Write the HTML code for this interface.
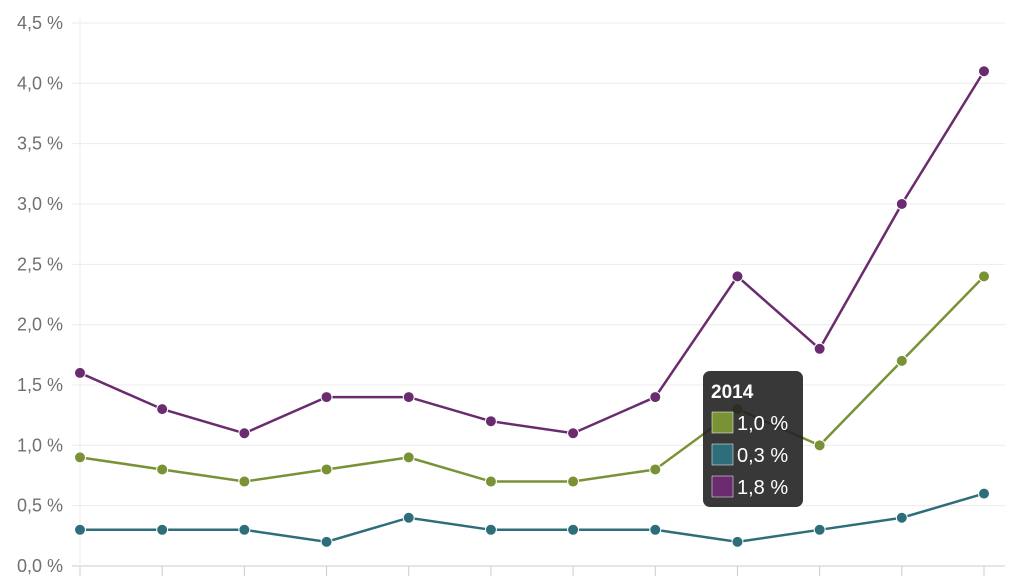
<!DOCTYPE html>
<html><head><meta charset="utf-8"><style>
body{margin:0;background:#fff;}
svg{display:block;font-family:"Liberation Sans",sans-serif;}
</style></head><body>
<svg id="c" width="1024" height="576"></svg>
<script>
const categories=["2005","2006","2007","2008","2009","2010","2011","2012","2013","2014","2015","2016"];
const seriesGreen=[0.9,0.8,0.7,0.8,0.9,0.7,0.7,0.8,1.3,1.0,1.7,2.4];
const seriesTeal=[0.3,0.3,0.3,0.2,0.4,0.3,0.3,0.3,0.2,0.3,0.4,0.6];
const seriesPurple=[1.6,1.3,1.1,1.4,1.4,1.2,1.1,1.4,2.4,1.8,3.0,4.1];
const yTicks=[0,0.5,1,1.5,2,2.5,3,3.5,4,4.5];
const tipIndex=9;
const NS="http://www.w3.org/2000/svg";
const svg=document.getElementById('c');
const x=i=>80+i*(984-80)/11;
const y=v=>566-v*(566-23)/4.5;
function el(t,a,p){const e=document.createElementNS(NS,t);for(const k in a)e.setAttribute(k,a[k]);(p||svg).appendChild(e);return e;}
const fmt=v=>v.toFixed(1).replace('.',',')+' %';
yTicks.forEach(v=>{
  const g=el('line',{x1:72,x2:1005,y1:y(v),y2:y(v),stroke:v===0?'#ccc':'#ececec','stroke-width':1});
  
  
  const t=el('text',{x:63,y:y(v)+6,'text-anchor':'end','font-size':18,fill:'#707070'});
  t.textContent=fmt(v);
  
  
});
const ax=el('line',{x1:80,x2:80,y1:18,y2:566,stroke:'#ececec'});


categories.forEach((c,i)=>{
  const t=el('line',{x1:x(i),x2:x(i),y1:566,y2:576,stroke:'#ccc'});
  
  
});
[[seriesTeal,'#2e6e7a','teal'],[seriesGreen,'#7a9236','green'],[seriesPurple,'#6a2c6e','purple']].forEach(([s,col,n])=>{
  const p=el('polyline',{points:s.map((v,i)=>x(i)+','+y(v)).join(' '),fill:'none',stroke:col,'stroke-width':2.5});
  
  
  s.forEach((v,i)=>{
    const d=el('circle',{cx:x(i),cy:y(v),r:5.5,fill:col,stroke:'#fff','stroke-width':1});
    
    
  });
});
const tg=el('g',{});


el('rect',{x:703,y:371,width:100,height:136,rx:7,fill:'#222','fill-opacity':0.9},tg);
const tt=el('text',{x:711,y:398,'font-size':19,'font-weight':'bold',fill:'#fff'},tg);
tt.textContent=categories[tipIndex];
[[seriesGreen,'#7a9236'],[seriesTeal,'#2e6e7a'],[seriesPurple,'#6a2c6e']].forEach(([s,col],k)=>{
  el('rect',{x:712,y:412+k*32,width:21,height:21,fill:col,stroke:'#fff','stroke-width':0.5},tg);
  const t=el('text',{x:737,y:430+k*32,'font-size':20,fill:'#fff'},tg);
  t.textContent=fmt(s[tipIndex]);
});
</script>
</body></html>
